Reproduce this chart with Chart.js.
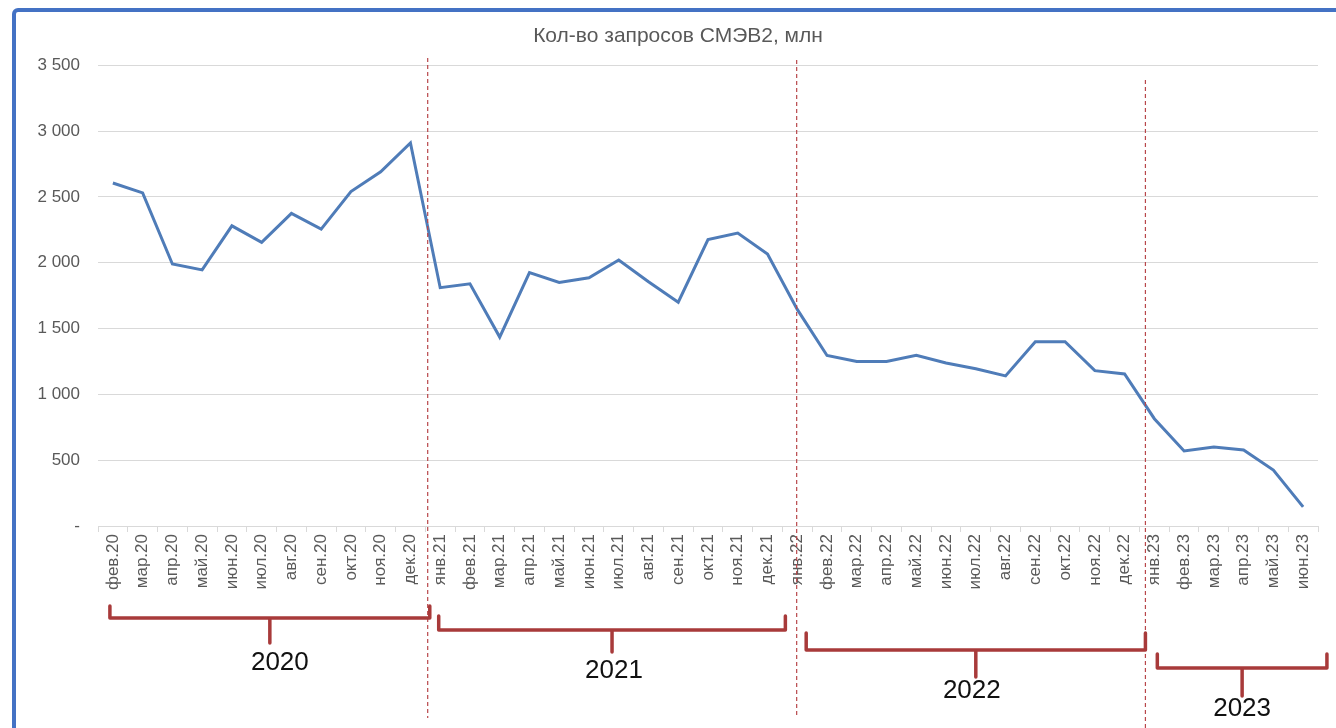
<!DOCTYPE html>
<html>
<head>
<meta charset="utf-8">
<script src="https://cdn.jsdelivr.net/npm/chart.js@4"></script>
<style>
  body { margin: 0; background: #fff; overflow: hidden; }
  #wrap { position: relative; width: 1336px; height: 728px; }
  #frame {
    position: absolute; left: 12px; top: 8px; width: 1400px; height: 800px;
    border: 4px solid #4472c4; border-radius: 6px; pointer-events: none;
  }
</style>
</head>
<body>
<div id="wrap">
  <canvas id="lineChart" width="1336" height="728"></canvas>
  <div id="frame"></div>
</div>
<script>
const chartTitle = "Кол-во запросов СМЭВ2, млн";

const months = [
  "фев.20", "мар.20", "апр.20", "май.20", "июн.20", "июл.20", "авг.20", "сен.20", "окт.20", "ноя.20", "дек.20",
  "янв.21", "фев.21", "мар.21", "апр.21", "май.21", "июн.21", "июл.21", "авг.21", "сен.21", "окт.21", "ноя.21", "дек.21",
  "янв.22", "фев.22", "мар.22", "апр.22", "май.22", "июн.22", "июл.22", "авг.22", "сен.22", "окт.22", "ноя.22", "дек.22",
  "янв.23", "фев.23", "мар.23", "апр.23", "май.23", "июн.23"
];

const requests = [
  2605, 2530, 1990, 1945, 2280, 2155, 2375, 2255, 2540, 2690, 2910,
  1810, 1840, 1435, 1925, 1850, 1885, 2020, 1855, 1700, 2175, 2225, 2065,
  1645, 1295, 1250, 1250, 1297, 1238, 1195, 1140, 1400, 1400, 1180, 1155,
  815, 570, 600, 578, 425, 145
];

const yearLabels = ["2020", "2021", "2022", "2023"];

// y axis ticks
const yMax = 3500;
const yStep = 500;

// where the year dividers sit (in category index units)
const dividers = [
  { at: 10.58, top: 58, bottom: 718 },
  { at: 22.98, top: 60, bottom: 718 },
  { at: 34.7, top: 80, bottom: 728 },
];

// bracket shapes under the axis
const brackets = [
  { from: -0.1, to: 10.65, y: 618, hook: 12, stem: 25, labelY: 663, dx: 10 },
  { from: 10.95, to: 22.6, y: 630, hook: 14, stem: 22, labelY: 671, dx: 2 },
  { from: 23.3, to: 34.7, y: 650, hook: 17, stem: 27, labelY: 691, dx: -4 },
  { from: 35.1, to: 40.8, y: 668, hook: 14, stem: 28, labelY: 709, dx: 0 },
];

function fmt(v) {
  if (v === 0) return "-";
  const s = String(v);
  return s.length > 3 ? s.slice(0, -3) + " " + s.slice(-3) : s;
}

const yearsPlugin = {
  id: "years",
  afterDraw(chart) {
    const ctx = chart.ctx;
    const x = chart.scales.x;
    ctx.save();

    // dashed dividers
    ctx.strokeStyle = "#b8474a";
    ctx.lineWidth = 1.2;
    ctx.setLineDash([4, 3]);
    dividers.forEach((d) => {
      const px = x.getPixelForValue(d.at);
      ctx.beginPath();
      ctx.moveTo(px, d.top);
      ctx.lineTo(px, d.bottom);
      ctx.stroke();
    });
    ctx.setLineDash([]);

    // brackets + year text
    ctx.strokeStyle = "#a83a3a";
    ctx.lineWidth = 3.5;
    ctx.lineJoin = "round";
    ctx.lineCap = "round";
    ctx.fillStyle = "#111";
    ctx.font = "26px 'Liberation Sans', Arial, sans-serif";
    ctx.textAlign = "center";
    ctx.textBaseline = "middle";
    brackets.forEach((b, i) => {
      const x1 = x.getPixelForValue(b.from);
      const x2 = x.getPixelForValue(b.to);
      const xm = (x1 + x2) / 2;
      ctx.beginPath();
      ctx.moveTo(x1, b.y - b.hook);
      ctx.lineTo(x1, b.y);
      ctx.lineTo(x2, b.y);
      ctx.lineTo(x2, b.y - b.hook);
      ctx.moveTo(xm, b.y);
      ctx.lineTo(xm, b.y + b.stem);
      ctx.stroke();
      ctx.fillText(yearLabels[i], xm + b.dx, b.labelY);
    });
    ctx.restore();
  },
};

const ctx = document.getElementById("lineChart").getContext("2d");
new Chart(ctx, {
  type: "line",
  data: {
    labels: months,
    datasets: [
      {
        label: chartTitle,
        data: requests,
        borderColor: "#4f7cb8",
        borderWidth: 3,
        pointRadius: 0,
        fill: false,
        tension: 0,
      },
    ],
  },
  options: {
    responsive: false,
    animation: false,
    layout: { padding: { top: 15, left: 38, right: 18, bottom: 0 } },
    plugins: {
      legend: { display: false },
      tooltip: { enabled: false },
      title: {
        display: true,
        text: chartTitle,
        color: "#595959",
        font: { size: 21, weight: "normal", family: "'Liberation Sans', Arial, sans-serif" },
        padding: { top: 9, bottom: 16 },
      },
    },
    scales: {
      x: {
        offset: true,
        afterFit: (s) => { s.height = 202; },
        grid: {
          offset: true,
          drawOnChartArea: false,
          tickLength: 6,
          color: "#d9d9d9",
        },
        border: { color: "#d9d9d9" },
        ticks: {
          autoSkip: false,
          minRotation: 90,
          maxRotation: 90,
          padding: 2,
          color: "#595959",
          font: { size: 17, family: "'Liberation Sans', Arial, sans-serif" },
        },
      },
      y: {
        min: 0,
        max: yMax,
        afterFit: (s) => { s.width = 60; },
        grid: { color: "#d9d9d9", drawTicks: false },
        border: { display: false },
        ticks: {
          stepSize: yStep,
          padding: 18,
          color: "#595959",
          font: { size: 17, family: "'Liberation Sans', Arial, sans-serif" },
          callback: (v) => fmt(v),
        },
      },
    },
  },
  plugins: [yearsPlugin],
});
</script>
</body>
</html>
